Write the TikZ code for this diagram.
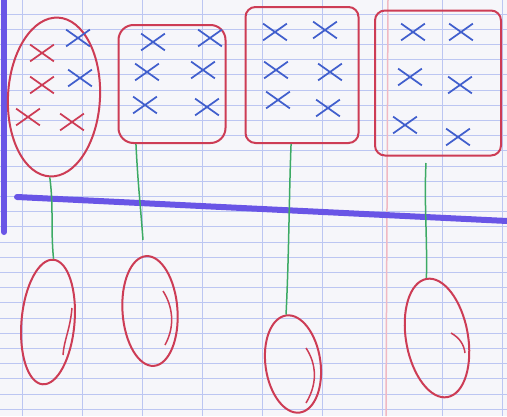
\documentclass[tikz,border=0pt]{standalone}
\usetikzlibrary{shapes.geometric,shapes.misc}
\definecolor{paper}{RGB}{246,246,250}
\definecolor{gridblue}{RGB}{188,198,242}
\definecolor{marginpink}{RGB}{240,185,195}
\definecolor{inkpurple}{RGB}{105,85,230}
\definecolor{penred}{RGB}{205,60,85}
\definecolor{penblue}{RGB}{65,95,205}
\definecolor{pengreen}{RGB}{60,170,100}
\tikzset{
  gridline/.style={gridblue, line width=0.16mm},
  pod/.style={draw=penred, line width=0.4mm, rounded corners=3mm, inner sep=0pt},
  bean/.style={ellipse, draw=penred, line width=0.4mm, inner sep=0pt},
  xb/.style={cross out, draw=penblue, line width=0.35mm, minimum width=4.4mm, minimum height=3mm, inner sep=0pt},
  xr/.style={xb, draw=penred},
  cord/.style={pengreen, line width=0.3mm},
  rule/.style={inkpurple, line width=1.2mm, line cap=round},
}
\begin{document}
\begin{tikzpicture}[x=0.2mm, y=-0.2mm]
\useasboundingbox (0,0) rectangle (507,416);
\fill[paper] (0,0) rectangle (507,416);
% squared paper
\foreach \y in {14,29.2,...,416} \draw[gridline] (0,\y) -- (507,\y);
\foreach \x in {22,82,...,507} \draw[gridline] (\x,0) -- (\x,416);
\draw[marginpink, line width=0.3mm] (388,0) -- (386,416);
\draw[rule] (4,0) -- (4,232);
\draw[rule] (17,197) -- (507,221);
% top pods
\node[bean, rotate=-3, minimum width=18.4mm, minimum height=31.8mm] (t1) at (54,97) {};
\node[pod, minimum width=21.4mm, minimum height=23.6mm] (t2) at (172,84) {};
\node[pod, rounded corners=2mm, minimum width=22.6mm, minimum height=27.2mm] (t3) at (302,75) {};
\node[pod, rounded corners=2mm, minimum width=25.2mm, minimum height=29mm] (t4) at (438,83) {};
% crosses
\foreach \p [count=\i] in {(42,53),(42,85),(28,117),(72,122)}
  \node[xr] (r1\i) at \p {};
\foreach \p [count=\i] in {(78,38),(80,78)}
  \node[xb] (x1\i) at \p {};
\foreach \p [count=\i] in {(153,42),(210,38),(147,72),(203,70),(145,105),(207,107)}
  \node[xb] (x2\i) at \p {};
\foreach \p [count=\i] in {(275,32),(325,30),(276,70),(330,72),(278,100),(328,108)}
  \node[xb] (x3\i) at \p {};
\foreach \p [count=\i] in {(413,32),(461,32),(410,77),(460,85),(405,125),(458,137)}
  \node[xb] (x4\i) at \p {};
% bottom beans
\node[bean, rotate=-5, minimum width=10.6mm, minimum height=25mm] (b1) at (48,322) {};
\node[bean, rotate=4, minimum width=11mm, minimum height=22mm] (b2) at (150,311) {};
\node[bean, rotate=8, minimum width=11mm, minimum height=19.6mm] (b3) at (293,364) {};
\node[bean, rotate=10, minimum width=12.4mm, minimum height=24mm] (b4) at (437,338) {};
% free ends of the strings
\coordinate (e2) at (143,240);
\coordinate (s4) at (426,163);
% strings
\draw[cord] (t1.south) .. controls +(4,30) and +(-3,-30) .. (b1.north);
\draw[cord] (t2.239) .. controls +(2,40) and +(-3,-40) .. (e2);
\draw[cord] (t3.261) .. controls +(-2,50) and +(3,-60) .. (b3.north);
\draw[cord] (s4) .. controls +(-2,40) and +(1,-40) .. (b4.north);
% pen strokes inside the beans
\draw[penred, line width=0.3mm] (72,308) .. controls (70,330) and (64,340) .. (63,355);
\draw[penred, line width=0.3mm] (163,291) .. controls (172,305) and (176,325) .. (165,345);
\draw[penred, line width=0.3mm] (306,348) .. controls (314,360) and (320,380) .. (306,403);
\draw[penred, line width=0.3mm] (451,333) .. controls (460,338) and (464,345) .. (465,353);
\end{tikzpicture}
\end{document}
